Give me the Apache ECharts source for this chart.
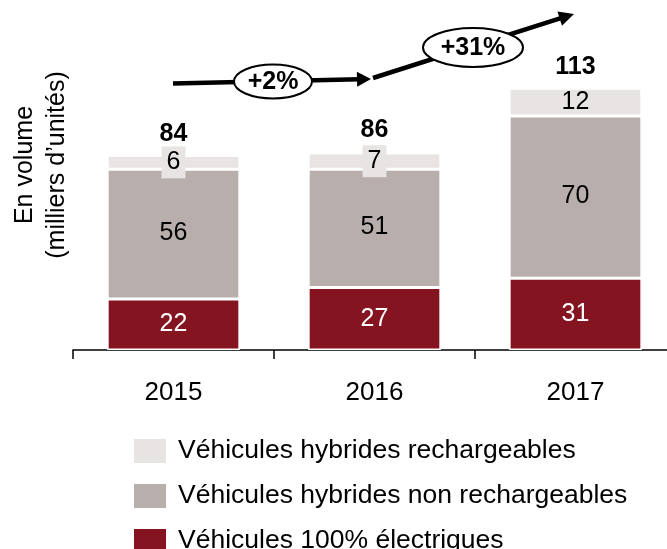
<!DOCTYPE html>
<html>
<head>
<meta charset="utf-8">
<script src="https://cdn.jsdelivr.net/npm/echarts@6/dist/echarts.min.js"></script>
<style>
  html, body { margin: 0; padding: 0; background: #fff; }
  #chart { width: 667px; height: 549px; }
</style>
</head>
<body>
<div id="chart"></div>
<script>
// ---- data ----
const years = ['2015', '2016', '2017'];
const electriques = [22, 27, 31];
const hybridesNonRech = [56, 51, 70];
const hybridesRech = [6, 7, 12];
const totals = [84, 86, 113];
const growthLabels = ['+2%', '+31%'];
const seriesNames = [
  'Véhicules 100% électriques',
  'Véhicules hybrides non rechargeables',
  'Véhicules hybrides rechargeables'
];
const yAxisTitle = 'En volume\n(milliers d’unités)';

// ---- styles ----
const FONT = '"Liberation Sans", Arial, sans-serif';
const C_RED = '#84141F';
const C_GRAY = '#B8AFAC';
const C_LIGHT = '#E8E4E3';

const chart = echarts.init(document.getElementById('chart'), null, { renderer: 'canvas' });

function arrowHead(x1, y1, x2, y2, len, half) {
  const dx = x2 - x1, dy = y2 - y1;
  const L = Math.sqrt(dx * dx + dy * dy);
  const ux = dx / L, uy = dy / L;
  const px = -uy, py = ux;
  const bx = x2 - ux * len, by = y2 - uy * len;
  return {
    base: [bx + ux * 2, by + uy * 2],
    points: [[x2, y2], [bx + px * half, by + py * half], [bx - px * half, by - py * half]]
  };
}
const a1 = arrowHead(173, 83.5, 371, 79, 14, 7.5);
const a2 = arrowHead(373, 78, 574, 14, 15, 7.5);

const barLabelBase = { show: true, position: 'inside', fontFamily: FONT, fontSize: 25, lineHeight: 26 };

const option = {
  animation: false,
  textStyle: { fontFamily: FONT },
  grid: { left: 73, right: -9, top: 72, bottom: 199, containLabel: false, outerBoundsMode: 'none' },
  legend: {
    orient: 'vertical',
    left: 127,
    top: 432,
    height: 200,
    itemWidth: 34,
    itemHeight: 26,
    itemGap: 17,
    icon: 'rect',
    data: [seriesNames[2], seriesNames[1], seriesNames[0]],
    textStyle: { fontFamily: FONT, fontSize: 26.5, color: '#000', padding: [0, 0, 0, 6] }
  },
  xAxis: {
    type: 'category',
    data: years,
    axisLine: { lineStyle: { color: '#000', width: 1.5 } },
    axisTick: { show: true, length: 9, lineStyle: { color: '#000', width: 1.5 } },
    axisLabel: { fontFamily: FONT, fontSize: 26, lineHeight: 26, color: '#000', margin: 30 }
  },
  yAxis: {
    type: 'value',
    min: 0,
    max: 120,
    show: false
  },
  series: [
    {
      name: seriesNames[0],
      type: 'bar',
      stack: 'total',
      barCategoryGap: '34%',
      itemStyle: { color: C_RED, borderColor: '#fff', borderWidth: 1.5 },
      label: Object.assign({}, barLabelBase, { color: '#fff' }),
      data: electriques
    },
    {
      name: seriesNames[1],
      type: 'bar',
      stack: 'total',
      itemStyle: { color: C_GRAY, borderColor: '#fff', borderWidth: 1.5 },
      label: Object.assign({}, barLabelBase, { color: '#000', offset: [0, -1] }),
      data: hybridesNonRech
    },
    {
      name: seriesNames[2],
      type: 'bar',
      stack: 'total',
      itemStyle: { color: C_LIGHT, borderColor: '#fff', borderWidth: 1.5 },
      label: Object.assign({}, barLabelBase, { color: '#000' }),
      data: hybridesRech.map(v => v < 10
        ? { value: v, label: { backgroundColor: C_LIGHT, padding: [3, 5] } }
        : v)
    },
    {
      name: 'total',
      type: 'line',
      data: totals,
      symbol: 'circle',
      symbolSize: 1,
      showSymbol: true,
      itemStyle: { color: 'rgba(0,0,0,0)' },
      lineStyle: { width: 0, color: 'rgba(0,0,0,0)' },
      silent: true,
      z: 5,
      label: {
        show: true,
        position: 'top',
        distance: 8,
        fontFamily: FONT,
        fontSize: 25,
        fontWeight: 'bold',
        color: '#000'
      }
    }
  ],
  graphic: [
    {
      type: 'text',
      x: 41, y: 165,
      rotation: Math.PI / 2,
      style: {
        text: yAxisTitle,
        font: '25px ' + FONT,
        fill: '#000',
        textAlign: 'center',
        textVerticalAlign: 'middle',
        lineHeight: 32
      }
    },
    {
      type: 'line',
      shape: { x1: 173, y1: 83.5, x2: a1.base[0], y2: a1.base[1] },
      style: { stroke: '#000', lineWidth: 4.5 }
    },
    {
      type: 'polygon',
      shape: { points: a1.points },
      style: { fill: '#000' }
    },
    {
      type: 'line',
      shape: { x1: 373, y1: 78, x2: a2.base[0], y2: a2.base[1] },
      style: { stroke: '#000', lineWidth: 4.5 }
    },
    {
      type: 'polygon',
      shape: { points: a2.points },
      style: { fill: '#000' }
    },
    {
      type: 'ellipse',
      shape: { cx: 273, cy: 81.5, rx: 39, ry: 17 },
      style: { fill: '#fff', stroke: '#000', lineWidth: 2 }
    },
    {
      type: 'text',
      x: 273, y: 82,
      style: {
        text: growthLabels[0],
        font: 'bold 25px ' + FONT,
        fill: '#000',
        textAlign: 'center',
        textVerticalAlign: 'middle'
      }
    },
    {
      type: 'ellipse',
      shape: { cx: 473, cy: 47.5, rx: 50, ry: 19.5 },
      style: { fill: '#fff', stroke: '#000', lineWidth: 2 }
    },
    {
      type: 'text',
      x: 473, y: 48,
      style: {
        text: growthLabels[1],
        font: 'bold 25px ' + FONT,
        fill: '#000',
        textAlign: 'center',
        textVerticalAlign: 'middle'
      }
    }
  ]
};

chart.setOption(option);
</script>
</body>
</html>
